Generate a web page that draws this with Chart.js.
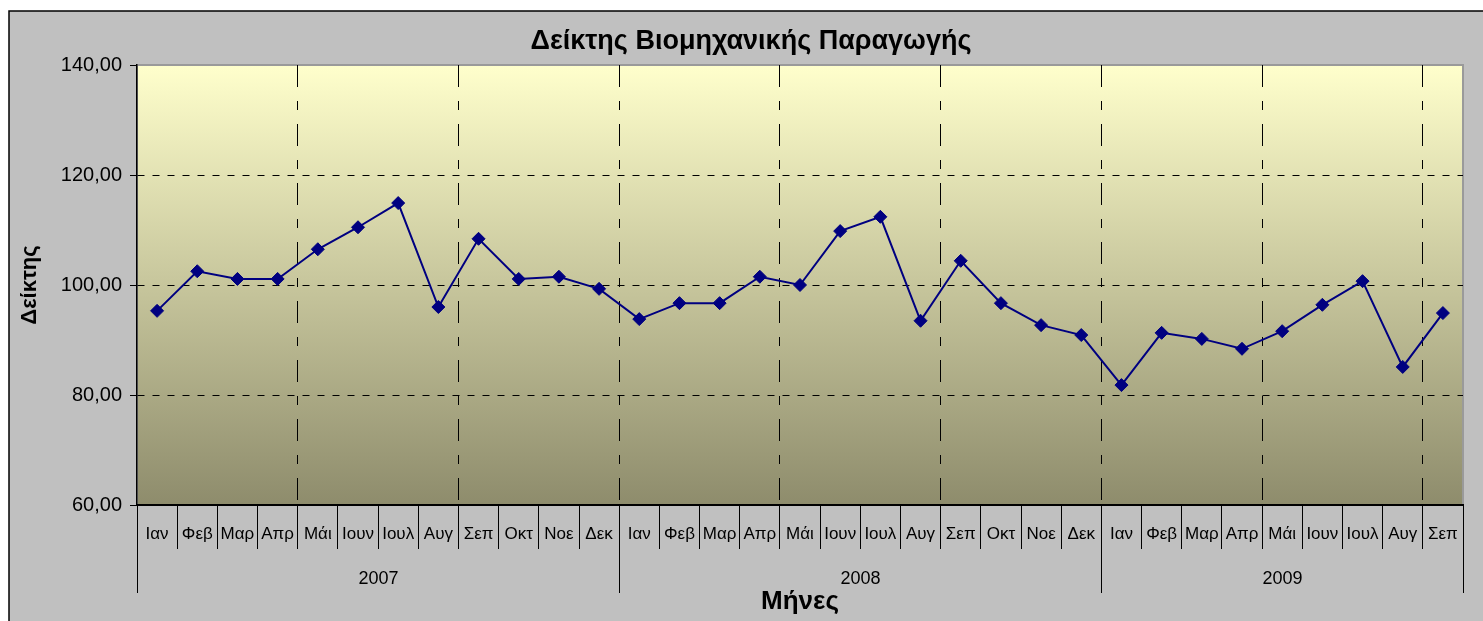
<!DOCTYPE html>
<html>
<head>
<meta charset="utf-8">
<script src="https://cdn.jsdelivr.net/npm/chart.js@4"></script>
<style>
html,body{margin:0;padding:0;background:#fff;overflow:hidden;}
canvas{display:block;}
</style>
</head>
<body>
<canvas id="chart" width="1502" height="630" style="width:1502px;height:630px"></canvas>
<script>
// DATA
const monthNames = ['Ιαν','Φεβ','Μαρ','Απρ','Μάι','Ιουν','Ιουλ','Αυγ','Σεπ','Οκτ','Νοε','Δεκ'];
const years = ['2007','2008','2009'];
const monthsPerYear = [12,12,9];
const values2007 = [95.3,102.5,101.1,101.1,106.5,110.5,114.9,96.0,108.4,101.1,101.5,99.3];
const values2008 = [93.8,96.7,96.7,101.5,100.0,109.8,112.4,93.5,104.4,96.7,92.7,90.9];
const values2009 = [81.8,91.3,90.2,88.4,91.6,96.4,100.7,85.1,94.9];
const yTicks = [60,80,100,120,140];

let labels=[];
monthsPerYear.forEach(n=>{ labels = labels.concat(monthNames.slice(0,n)); });
const values = values2007.concat(values2008, values2009);

const FONT = "'Liberation Sans', Arial, sans-serif";

// background frame + plot gradient
const frame = {
  id:'frame',
  beforeDraw(chart){
    const c = chart.ctx, a = chart.chartArea;
    c.save();
    c.fillStyle='#fff';
    c.fillRect(0,0,chart.width,chart.height);
    c.fillStyle='#c0c0c0';
    c.fillRect(9,11,1484,640);
    c.strokeStyle='#000';
    c.lineWidth=1.5;
    c.strokeRect(9,11,1484,640);
    const g = c.createLinearGradient(0,a.top,0,a.bottom);
    g.addColorStop(0,'#ffffcc');
    g.addColorStop(1,'#8e8c6c');
    c.fillStyle=g;
    c.fillRect(a.left,a.top,a.right-a.left,a.bottom-a.top);
    c.strokeStyle='#9a9a9a';
    c.lineWidth=2;
    c.strokeRect(a.left,a.top,a.right-a.left,a.bottom-a.top);
    c.restore();
  }
};

// year row under the month labels
const yearAxis = {
  id:'yearAxis',
  afterDraw(chart){
    const c = chart.ctx, x = chart.scales.x;
    const w = x.getPixelForValue(1)-x.getPixelForValue(0);
    c.save();
    c.strokeStyle='#000';
    c.lineWidth=1;
    c.fillStyle='#000';
    c.font='18px '+FONT;
    c.textAlign='center';
    c.textBaseline='middle';
    let start=0;
    const edge = i => Math.round(x.getPixelForValue(i)-w/2)+0.5;
    c.beginPath(); c.moveTo(edge(0),x.top); c.lineTo(edge(0),x.top+88); c.stroke();
    years.forEach((yr,k)=>{
      const end = start+monthsPerYear[k];
      const xe = Math.round(x.getPixelForValue(end-1)+w/2)+0.5;
      c.beginPath(); c.moveTo(xe,x.top); c.lineTo(xe,x.top+88); c.stroke();
      c.fillText(yr,(edge(start)+xe)/2,x.top+74);
      start=end;
    });
    c.restore();
  }
};

new Chart(document.getElementById('chart'),{
  type:'line',
  data:{
    labels:labels,
    datasets:[{
      label:'Δείκτης',
      data:values,
      borderColor:'#000080',
      backgroundColor:'#000080',
      borderWidth:2,
      pointStyle:'rectRot',
      pointRadius:6.5,
      pointHoverRadius:6.5,
      pointBorderWidth:1,
      tension:0
    }]
  },
  options:{
    responsive:false,
    animation:false,
    devicePixelRatio:1,
    layout:{padding:{left:9,right:9,top:11,bottom:0}},
    plugins:{
      legend:{display:false},
      tooltip:{enabled:false},
      title:{
        display:true,
        text:'Δείκτης Βιομηχανικής Παραγωγής',
        color:'#000',
        font:{family:FONT,size:27,weight:'bold'},
        padding:{top:14,bottom:7.6}
      }
    },
    scales:{
      x:{
        offset:true,
        grid:{
          offset:true,
          color:ctx=>(ctx.index>0 && ctx.index%4===0) ? '#000' : 'rgba(0,0,0,0)',
          tickColor:'#000',
          tickLength:44,
          tickWidth:1,
          tickBorderDash:[]
        },
        border:{color:'#000',width:2,dash:[22,14,9,14]},
        ticks:{
          autoSkip:false,maxRotation:0,minRotation:0,
          color:'#000',font:{family:FONT,size:17},
          padding:-25
        },
        title:{
          display:true,text:'Μήνες',color:'#000',
          font:{family:FONT,size:26,weight:'bold'},
          padding:{top:0,bottom:13}
        },
        afterFit(s){ s.height=125; }
      },
      y:{
        min:60,max:140,
        afterBuildTicks(s){ s.ticks = yTicks.map(v=>({value:v})); },
        grid:{
          color:ctx=>(ctx.tick && (ctx.tick.value===60 || ctx.tick.value===140)) ? 'rgba(0,0,0,0)' : '#000',
          tickColor:'#000',
          tickLength:7,
          tickBorderDash:[]
        },
        border:{color:'#000',width:1.5,dash:[7,8]},
        ticks:{
          color:'#000',font:{family:FONT,size:20},padding:8,
          callback:v=>v.toFixed(2).replace('.',',')
        },
        title:{
          display:true,text:'Δείκτης',color:'#000',
          font:{family:FONT,size:22,weight:'bold'},
          padding:{top:8,bottom:0}
        },
        afterFit(s){ s.width=128; }
      },
      y2:{
        position:'right',
        display:true,
        grid:{display:false},
        border:{display:false},
        ticks:{display:false},
        afterFit(s){ s.width=30; }
      }
    }
  },
  plugins:[frame,yearAxis]
});
</script>
</body>
</html>
